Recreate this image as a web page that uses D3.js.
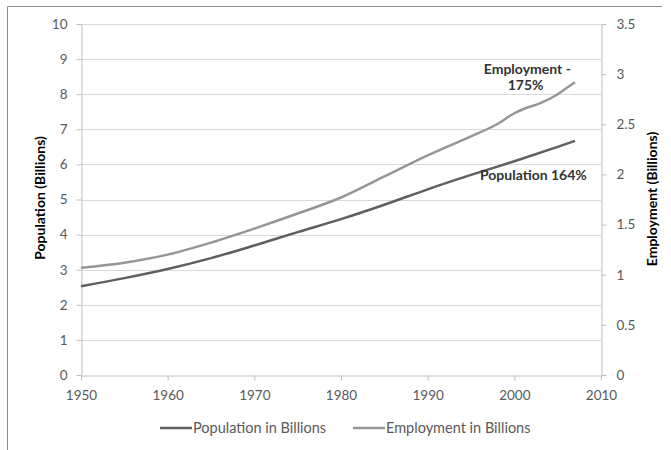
<!DOCTYPE html>
<html>
<head>
<meta charset="utf-8">
<script src="https://cdn.jsdelivr.net/npm/d3@7"></script>
<style>
  body { margin: 0; background: #fff; }
  svg text { font-family: Lato, "Open Sans", sans-serif; }
</style>
</head>
<body>
<svg width="671" height="450"></svg>
<script>
// population, billions
const popYears = [1950, 1955, 1960, 1965, 1970, 1975, 1980, 1985, 1990, 1995, 2000, 2005, 2007];
const popValues = [2.53, 2.76, 3.02, 3.33, 3.69, 4.07, 4.44, 4.85, 5.29, 5.70, 6.09, 6.50, 6.67];

// employment, billions (right axis)
const empYears = [1950, 1955, 1960, 1965, 1970, 1975, 1980, 1985, 1990, 1995, 1998, 2000, 2001, 2003, 2005, 2006, 2007];
const empValues = [1.07, 1.12, 1.20, 1.32, 1.46, 1.61, 1.77, 1.98, 2.19, 2.38, 2.50, 2.61, 2.65, 2.71, 2.80, 2.86, 2.92];

const xTicks = [1950, 1960, 1970, 1980, 1990, 2000, 2010];
const leftTicks = [0, 1, 2, 3, 4, 5, 6, 7, 8, 9, 10];
const rightTicks = [0, 0.5, 1, 1.5, 2, 2.5, 3, 3.5];

const svg = d3.select("svg");

// outer frame
svg.append("path")
    .attr("d", "M7.5,450 V6.5 H662")
    .attr("fill", "none")
    .attr("stroke", "#8c8c8c")
    .attr("stroke-width", 1);

const x = d3.scaleLinear().domain([1950, 2010]).range([81, 601]);
const yL = d3.scaleLinear().domain([0, 10]).range([375, 24]);
const yR = d3.scaleLinear().domain([0, 3.5]).range([375, 24]);

// gridlines
svg.append("g")
    .selectAll("line")
    .data(leftTicks.slice(1))
    .enter()
    .append("line")
    .attr("x1", x(1950)).attr("x2", x(2010))
    .attr("y1", d => Math.round(yL(d)) + 0.5)
    .attr("y2", d => Math.round(yL(d)) + 0.5)
    .attr("stroke", "#d9d9d9");

// axes
const gx = svg.append("g")
    .attr("transform", `translate(0,${yL(0) + 0.5})`)
    .call(d3.axisBottom(x).tickValues(xTicks).tickFormat(d3.format("d")).tickSizeInner(5).tickSizeOuter(0).tickPadding(10));

const gl = svg.append("g")
    .attr("transform", `translate(${x(1950) + 0.5},0)`)
    .call(d3.axisLeft(yL).tickValues(leftTicks).tickSizeInner(5).tickSizeOuter(0).tickPadding(9));

const gr = svg.append("g")
    .attr("transform", `translate(${x(2010) + 0.5},0)`)
    .call(d3.axisRight(yR).tickValues(rightTicks).tickFormat(d => d).tickSizeInner(5).tickSizeOuter(0).tickPadding(10));

[gx, gl, gr].forEach(g => {
    g.select(".domain").attr("stroke", "#bfbfbf");
    g.selectAll(".tick line").attr("stroke", "#bfbfbf");
    g.selectAll(".tick text")
        .attr("fill", "#595959")
        .style("font-size", "13.5px");
});

// axis titles
svg.append("text")
    .attr("transform", "translate(45,198) rotate(-90)")
    .attr("text-anchor", "middle")
    .style("font-size", "14px")
    .style("font-weight", "bold")
    .attr("fill", "#000")
    .text("Population (Billions)");

svg.append("text")
    .attr("transform", "translate(657,199) rotate(-90)")
    .attr("text-anchor", "middle")
    .style("font-size", "14px")
    .style("font-weight", "bold")
    .attr("fill", "#000")
    .text("Employment (Billions)");

// lines
const popData = popYears.map((yr, i) => ({ year: yr, value: popValues[i] }));
const empData = empYears.map((yr, i) => ({ year: yr, value: empValues[i] }));

const popLine = d3.line().x(d => x(d.year)).y(d => yL(d.value)).curve(d3.curveMonotoneX);
const empLine = d3.line().x(d => x(d.year)).y(d => yR(d.value)).curve(d3.curveMonotoneX);

svg.append("path")
    .datum(empData)
    .attr("d", empLine)
    .attr("fill", "none")
    .attr("stroke", "#969696")
    .attr("stroke-width", 2.5);

svg.append("path")
    .datum(popData)
    .attr("d", popLine)
    .attr("fill", "none")
    .attr("stroke", "#5f5f5f")
    .attr("stroke-width", 2.5);

// annotations
svg.append("text")
    .attr("x", x(2001.5)).attr("y", yL(8.58))
    .attr("text-anchor", "middle")
    .style("font-size", "14px").style("font-weight", "bold")
    .attr("fill", "#333")
    .text("Employment -");
svg.append("text")
    .attr("x", x(2001.3)).attr("y", yL(8.58) + 16.5)
    .attr("text-anchor", "middle")
    .style("font-size", "14px").style("font-weight", "bold")
    .attr("fill", "#333")
    .text("175%");
svg.append("text")
    .attr("x", x(2002.2)).attr("y", yL(5.6) + 2)
    .attr("text-anchor", "middle")
    .style("font-size", "14px").style("font-weight", "bold")
    .attr("fill", "#333")
    .text("Population 164%");

// legend
const legend = [
    { name: "Population in Billions", color: "#5f5f5f", x: 160 },
    { name: "Employment in Billions", color: "#969696", x: 353 }
];
const lg = svg.append("g").selectAll("g")
    .data(legend)
    .enter()
    .append("g")
    .attr("transform", d => `translate(${d.x},428)`);
lg.append("line")
    .attr("x1", 0).attr("x2", 32)
    .attr("stroke", d => d.color)
    .attr("stroke-width", 2.5);
lg.append("text")
    .attr("x", 33).attr("y", 5)
    .style("font-size", "14.5px")
    .attr("fill", "#595959")
    .text(d => d.name);
</script>
</body>
</html>
